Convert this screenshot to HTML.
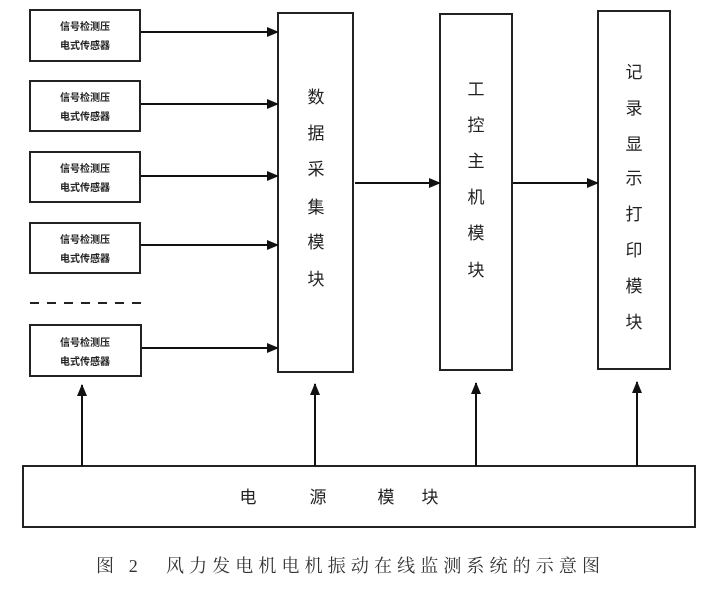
<!DOCTYPE html>
<html><head><meta charset="utf-8"><style>
body{margin:0;background:#fff;}
svg text{font-family:"Liberation Sans","Noto Sans CJK SC",sans-serif;fill:#222;}
</style></head><body>
<svg width="703" height="594" viewBox="0 0 703 594" xmlns="http://www.w3.org/2000/svg">
<defs><marker id="a" markerWidth="12" markerHeight="10" refX="11" refY="5" orient="auto" markerUnits="userSpaceOnUse"><path d="M0,0 L12,5 L0,10 Z" fill="#111"/></marker></defs>
<g fill="none" stroke="#222" stroke-width="2">
<rect x="30" y="10" width="110" height="51"/>
<rect x="30" y="81" width="110" height="50"/>
<rect x="30" y="152" width="110" height="50"/>
<rect x="30" y="223" width="110" height="50"/>
<rect x="30" y="325" width="111" height="51"/>
<line x1="30" y1="303" x2="142" y2="303" stroke-dasharray="9,8"/>
<rect x="278" y="13" width="75" height="359"/>
<rect x="440" y="14" width="72" height="356"/>
<rect x="598" y="11" width="72" height="358"/>
<rect x="23" y="466" width="672" height="61"/>
</g>
<g stroke="#111" stroke-width="2" marker-end="url(#a)">
<line x1="141" y1="32" x2="278" y2="32"/>
<line x1="141" y1="104" x2="278" y2="104"/>
<line x1="141" y1="176" x2="278" y2="176"/>
<line x1="141" y1="245" x2="278" y2="245"/>
<line x1="142" y1="348" x2="278" y2="348"/>
<line x1="355" y1="183" x2="440" y2="183"/>
<line x1="513" y1="183" x2="598" y2="183"/>
<line x1="82" y1="466" x2="82" y2="385"/>
<line x1="315" y1="466" x2="315" y2="384"/>
<line x1="476" y1="466" x2="476" y2="383"/>
<line x1="637" y1="466" x2="637" y2="382"/>
</g>
<g font-size="10" text-anchor="middle" font-weight="bold">
<text x="85" y="30">信号检测压</text><text x="85" y="49">电式传感器</text>
<text x="85" y="101">信号检测压</text><text x="85" y="120">电式传感器</text>
<text x="85" y="172">信号检测压</text><text x="85" y="191">电式传感器</text>
<text x="85" y="243">信号检测压</text><text x="85" y="262">电式传感器</text>
<text x="85" y="346">信号检测压</text><text x="85" y="365">电式传感器</text>
</g>
<g font-size="17" text-anchor="middle">
<text x="316" y="103">数</text><text x="316" y="139">据</text><text x="316" y="175">采</text><text x="316" y="213">集</text><text x="316" y="248">模</text><text x="316" y="285">块</text>
<text x="476" y="95">工</text><text x="476" y="131">控</text><text x="476" y="167">主</text><text x="476" y="203">机</text><text x="476" y="239">模</text><text x="476" y="276">块</text>
<text x="634" y="78">记</text><text x="634" y="114">录</text><text x="634" y="150">显</text><text x="634" y="184">示</text><text x="634" y="220">打</text><text x="634" y="256">印</text><text x="634" y="292">模</text><text x="634" y="328">块</text>
<text x="248" y="503">电</text><text x="318" y="503">源</text><text x="386" y="503">模</text><text x="430" y="503">块</text>
</g>
<text x="96" y="572" font-size="18" textLength="504" lengthAdjust="spacing" style="font-family:'Liberation Serif','Noto Serif CJK SC',serif;fill:#333">图 2　风力发电机电机振动在线监测系统的示意图</text>
</svg>
</body></html>
